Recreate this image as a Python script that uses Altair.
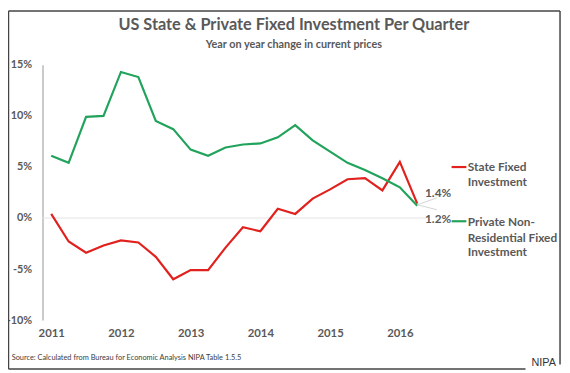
import altair as alt
import pandas as pd

quarters = ["2011Q1", "2011Q2", "2011Q3", "2011Q4",
            "2012Q1", "2012Q2", "2012Q3", "2012Q4",
            "2013Q1", "2013Q2", "2013Q3", "2013Q4",
            "2014Q1", "2014Q2", "2014Q3", "2014Q4",
            "2015Q1", "2015Q2", "2015Q3", "2015Q4",
            "2016Q1", "2016Q2"]
state_fixed = [0.4, -2.3, -3.4, -2.7, -2.2, -2.4, -3.8, -6.0, -5.1, -5.1, -2.9,
               -0.9, -1.3, 0.9, 0.4, 1.9, 2.8, 3.8, 3.9, 2.7, 5.5, 1.4]
private_nonres = [6.1, 5.4, 9.9, 10.0, 14.3, 13.8, 9.5, 8.7, 6.7, 6.1, 6.9,
                  7.2, 7.3, 7.9, 9.1, 7.6, 6.5, 5.4, 4.7, 3.9, 3.0, 1.2]
series_names = ["State Fixed Investment", "Private Non-Residential Fixed Investment"]
series_colors = ["#e0211d", "#22a35b"]
end_labels = ["1.4%", "1.2%"]
year_ticks = [0, 4, 8, 12, 16, 20]
y_ticks = [-10, -5, 0, 5, 10, 15]

rows = []
for i, q in enumerate(quarters):
    rows.append({"idx": i, "quarter": q, "series": series_names[0], "value": state_fixed[i]})
    rows.append({"idx": i, "quarter": q, "series": series_names[1], "value": private_nonres[i]})
df = pd.DataFrame(rows)

GRAY = "#595959"
FONT = "Lato"

x_scale = alt.Scale(domain=[-0.5, 21.5], nice=False, zero=False)
y_scale = alt.Scale(domain=[-10, 15], nice=False)

x_axis = alt.Axis(values=year_ticks, labelExpr="2011 + datum.value / 4", title=None,
                  domain=False, ticks=False, grid=False, labelFont=FONT,
                  labelFontSize=11.5, labelFontWeight="bold", labelColor=GRAY,
                  labelPadding=8)
y_axis = alt.Axis(values=y_ticks, labelExpr="datum.value + '%'", title=None,
                  domain=True, domainColor="#a6a6a6", domainWidth=1.2, ticks=False,
                  grid=False, labelFont=FONT, labelFontSize=11,
                  labelFontWeight="bold", labelColor=GRAY, labelPadding=11)

zero = alt.Chart(pd.DataFrame({"value": [0]})).mark_rule(color="#e4e4e4", strokeWidth=1).encode(
    y=alt.Y("value:Q", scale=y_scale, axis=y_axis)
)

lines = alt.Chart(df).mark_line(strokeWidth=2.2).encode(
    x=alt.X("idx:Q", scale=x_scale, axis=x_axis),
    y=alt.Y("value:Q", scale=y_scale, axis=y_axis),
    color=alt.Color("series:N", scale=alt.Scale(domain=series_names, range=series_colors),
                    legend=None),
)

end_df = pd.DataFrame({"idx": [21, 21], "value": [1.3, 1.3], "label": end_labels})


def txt(text, x, y, size, weight="normal", align="left", color=GRAY, font=FONT):
    return alt.Chart(pd.DataFrame({"t": [text]})).mark_text(
        align=align, baseline="middle", font=font, fontSize=size, fontWeight=weight,
        color=color).encode(x=alt.value(x), y=alt.value(y), text="t:N")


def seg(x1, x2, y1, y2, color, width):
    return alt.Chart(pd.DataFrame({"a": [0]})).mark_rule(color=color, strokeWidth=width).encode(
        x=alt.value(x1), x2=alt.value(x2), y=alt.value(y1), y2=alt.value(y2))


leaders = alt.layer(
    alt.Chart(end_df.iloc[[0]]).mark_rule(color="#c8c8c8", strokeWidth=0.8).encode(
        x=alt.X("idx:Q", scale=x_scale), y=alt.Y("value:Q", scale=y_scale),
        x2=alt.value(400), y2=alt.value(135)),
    alt.Chart(end_df.iloc[[1]]).mark_rule(color="#c8c8c8", strokeWidth=0.8).encode(
        x=alt.X("idx:Q", scale=x_scale), y=alt.Y("value:Q", scale=y_scale),
        x2=alt.value(400), y2=alt.value(147)),
)
end_text = alt.layer(
    txt(end_labels[0], 388, 129.7, 12, "bold"),
    txt(end_labels[1], 388, 156.3, 12, "bold"),
)

legend = alt.layer(
    seg(415, 430, 103.7, 103.7, series_colors[0], 2.2),
    txt("State Fixed", 431.5, 103.7, 12, "bold"),
    txt("Investment", 431.5, 119.3, 12, "bold"),
    seg(415, 430, 158.7, 158.7, series_colors[1], 2.2),
    txt("Private Non-", 431.5, 159.7, 12, "bold"),
    txt("Residential Fixed", 431.5, 175.7, 12, "bold"),
    txt("Investment", 431.5, 190.3, 12, "bold"),
)

titles = alt.layer(
    txt("US State & Private Fixed Investment Per Quarter", 255, -40.5, 16.5, "bold", "center"),
    txt("Year on year change in current prices", 255, -20, 11, "bold", "center"),
    txt("Source: Calculated from Bureau for Economic Analysis NIPA Table 1.5.5", -31.3, 297.7,
        7.5, "normal", "left", "#404040"),
)

FR = "#444444"
frame = alt.layer(
    seg(-34.5, 525, -54.5, -54.5, FR, 1.5),
    seg(-34.5, -34.5, -54.5, 308.5, FR, 1.5),
    seg(525, 525, -54.5, 304, FR, 1.5),
    seg(-34.5, 490, 308.5, 308.5, FR, 1.5),
    txt("NIPA", 508.5, 303, 11, "normal", "center", "#333333", "Liberation Sans"),
)

chart = alt.layer(zero, lines, leaders, end_text, legend, titles, frame).properties(
    width=389, height=259,
    padding={"left": 35, "top": 55, "right": 138, "bottom": 51},
    autosize=alt.AutoSizeParams(type="none"),
    background="white",
).configure_view(stroke=None)

chart.save("out.html", embed_options={"renderer": "svg", "actions": False})
